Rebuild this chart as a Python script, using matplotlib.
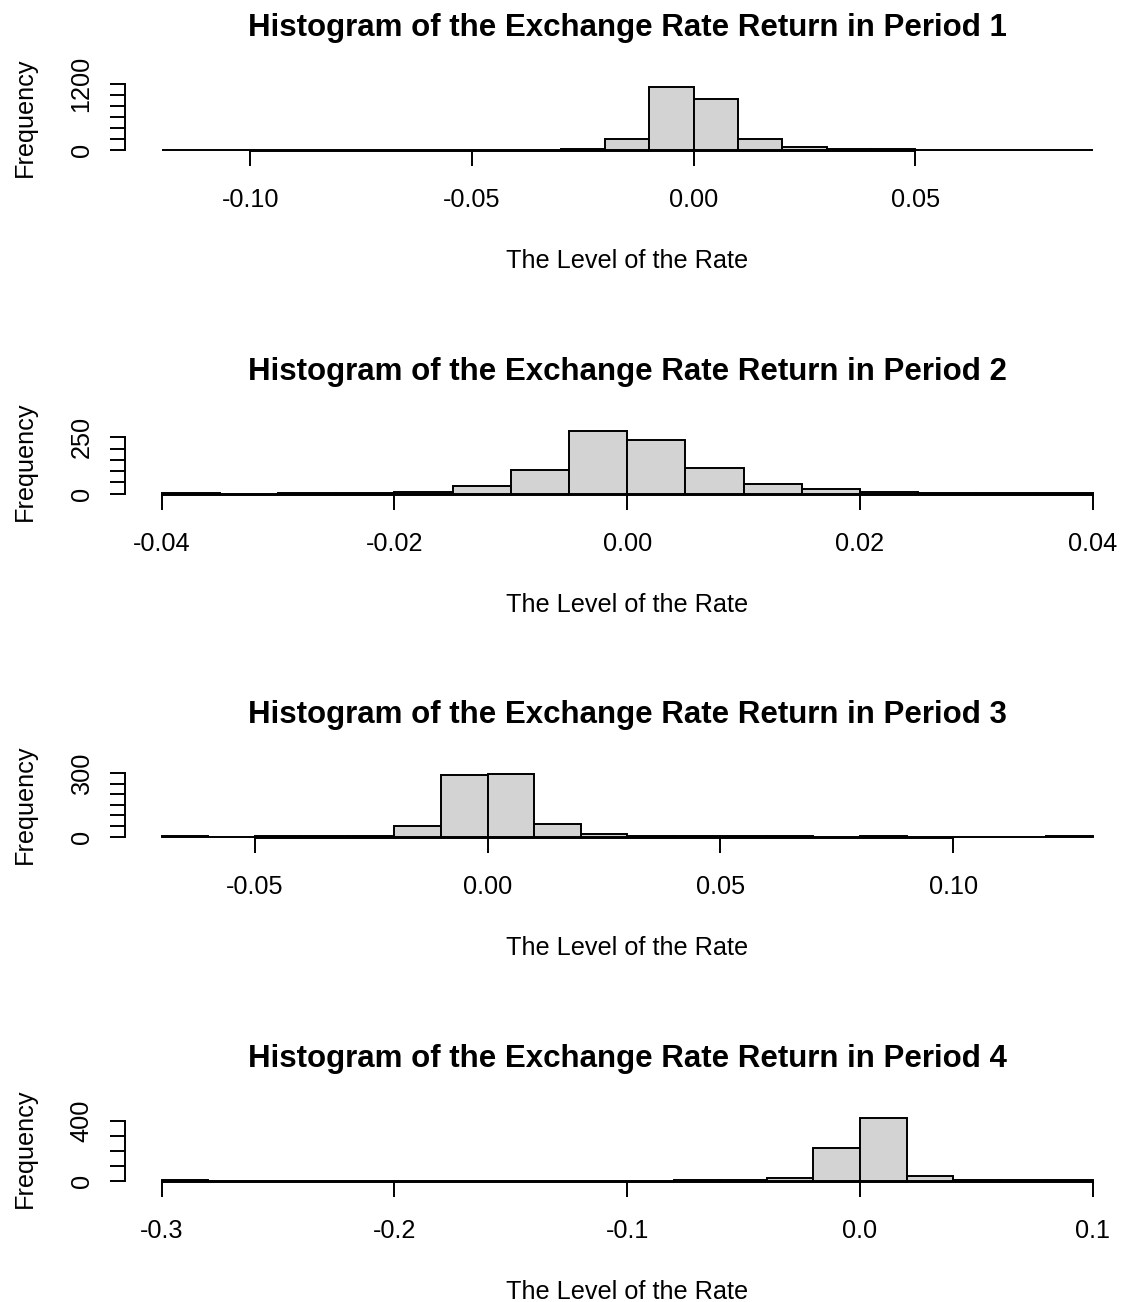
import matplotlib
matplotlib.use("Agg")
import matplotlib.pyplot as plt
import numpy as np

plt.rcParams['font.family'] = ['Liberation Sans', 'DejaVu Sans']

# counts per bin of the daily returns, breaks as R's hist() chose them
p1_counts = [1, 0, 0, 0, 0, 0, 1, 1, 2, 5, 188, 1141, 927, 188, 40, 8, 4, 2, 1, 0, 1]
p1_breaks = (-0.12, 0.09)
p1_xticks = [-0.10, -0.05, 0.00, 0.05]
p1_xlabels = ["-0.10", "-0.05", "0.00", "0.05"]
p1_yticks = [0, 200, 400, 600, 800, 1000, 1200]

p2_counts = [1, 0, 1, 2, 6, 32, 105, 280, 238, 114, 44, 22, 6, 2, 1, 1]
p2_breaks = (-0.04, 0.04)
p2_xticks = [-0.04, -0.02, 0.00, 0.02, 0.04]
p2_xlabels = ["-0.04", "-0.02", "0.00", "0.02", "0.04"]
p2_yticks = [0, 50, 100, 150, 200, 250]

p3_counts = [1, 0, 1, 1, 3, 50, 290, 298, 61, 12, 4, 2, 1, 1, 0, 1, 0, 0, 0, 1]
p3_breaks = (-0.07, 0.13)
p3_xticks = [-0.05, 0.00, 0.05, 0.10]
p3_xlabels = ["-0.05", "0.00", "0.05", "0.10"]
p3_yticks = [0, 50, 100, 150, 200, 250, 300]

p4_counts = [1, 0, 0, 0, 0, 0, 0, 0, 0, 0, 0, 1, 2, 15, 220, 421, 30, 3, 1, 1]
p4_breaks = (-0.3, 0.1)
p4_xticks = [-0.3, -0.2, -0.1, 0.0, 0.1]
p4_xlabels = ["-0.3", "-0.2", "-0.1", "0.0", "0.1"]
p4_yticks = [0, 100, 200, 300, 400]

panels = [
    (p1_counts, p1_breaks, p1_xticks, p1_xlabels, p1_yticks),
    (p2_counts, p2_breaks, p2_xticks, p2_xlabels, p2_yticks),
    (p3_counts, p3_breaks, p3_xticks, p3_xlabels, p3_yticks),
    (p4_counts, p4_breaks, p4_xticks, p4_xlabels, p4_yticks),
]

W, H = 1126, 1302
fig = plt.figure(figsize=(W / 100, H / 100), dpi=100)

lw = 1.4
lab_size = 18.2
left_px, right_px = 124.5, 1130
bottoms_px = [151.0, 495.0, 838.0, 1182.0]
height_px = 67

for i, (counts, brk, xt, xl, yt) in enumerate(panels):
    ax = fig.add_axes([left_px / W, 1 - bottoms_px[i] / H,
                       (right_px - left_px) / W, height_px / H])
    edges = np.linspace(brk[0], brk[1], len(counts) + 1)
    ax.bar(edges[:-1], counts, width=np.diff(edges), align='edge',
           color='#D3D3D3', edgecolor='black', linewidth=lw)

    # padding around the data range, axis line hugging the bar bases
    rx = brk[1] - brk[0]
    ax.set_xlim(brk[0] - 0.04 * rx, brk[1] + 0.04 * rx)
    ymax = max(counts)
    ax.set_ylim(-0.022 * ymax, 1.04 * ymax)

    for s in ['top', 'right']:
        ax.spines[s].set_visible(False)
    ax.spines['bottom'].set_bounds(xt[0], xt[-1])
    ax.spines['left'].set_bounds(yt[0], yt[-1])
    for s in ['bottom', 'left']:
        ax.spines[s].set_linewidth(lw)

    ax.set_xticks(xt)
    ax.set_xticklabels(xl)
    ax.set_yticks(yt)
    ax.set_yticklabels([str(yt[0])] + [''] * (len(yt) - 2) + [str(yt[-1])])
    ax.tick_params(axis='both', direction='out', length=10.8, width=lw,
                   labelsize=lab_size)
    ax.tick_params(axis='x', pad=15.5)
    ax.tick_params(axis='y', pad=11.5, labelrotation=90)
    for t in ax.get_yticklabels():
        t.set_va('center')

    ax.annotate('Histogram of the Exchange Rate Return in Period %d' % (i + 1),
                xy=(0.5, 1), xycoords='axes fraction',
                xytext=(0, 34.9), textcoords='offset points',
                ha='center', va='baseline', fontsize=22.5, fontweight='bold')
    ax.annotate('The Level of the Rate', xy=(0.5, 0), xycoords='axes fraction',
                xytext=(0, -84.5), textcoords='offset points',
                ha='center', va='baseline', fontsize=lab_size)
    ax.annotate('Frequency', xy=(0, 0.5), xycoords='axes fraction',
                xytext=(-67, 0), textcoords='offset points',
                ha='center', va='baseline', rotation=90,
                rotation_mode='anchor', fontsize=lab_size)

fig.savefig('out.png', dpi=100)
